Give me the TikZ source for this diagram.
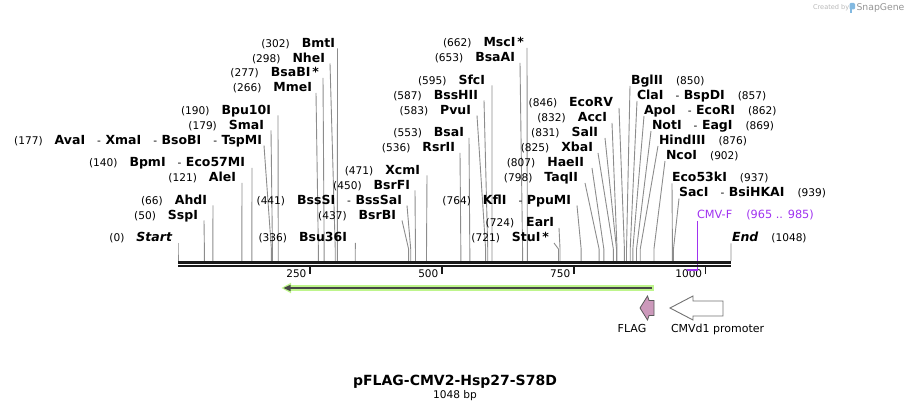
\documentclass[tikz,border=0pt]{standalone}
\usepackage{fontspec}
\setmainfont{DejaVu Sans}
\usetikzlibrary{arrows.meta}
\definecolor{leadc}{RGB}{140,140,140}
\definecolor{primc}{RGB}{160,50,240}
\definecolor{cdsg}{RGB}{190,245,140}
\definecolor{cdsd}{RGB}{70,70,70}
\definecolor{flagc}{RGB}{204,153,187}
\definecolor{logob}{RGB}{130,185,225}
\newcommand\nm[1]{{\fontsize{12.5}{14}\selectfont\bfseries #1}}
\newcommand\nb[1]{{\fontsize{10.6}{12}\selectfont (#1)}}
\newcommand\sepx{\hspace{12pt}{\mdseries\fontsize{10.6}{12}\selectfont -}\hspace{4.5pt}}
\newcommand\lcut[7]{%
  \node[lab, anchor=base east] (#1) at (#2,#3+4.5) {\nb{#4}\hspace{12pt}\nm{#5}};
  \coordinate (#1a) at (#7,#3+5.5);
  \coordinate (#1b) at ({178+#6*0.52767},249);
  \coordinate (#1c) at ({178+#6*0.52767},261);
  \draw[lead] (#1a) -- (#1b) -- (#1c);
}
\newcommand\rcut[7]{%
  \node[lab, anchor=base west] (#1) at (#2,#3+4.5) {\nm{#5}\hspace{13pt}\nb{#4}};
  \coordinate (#1a) at (#7,#3+6);
  \coordinate (#1b) at ({178+#6*0.52767},249);
  \coordinate (#1c) at ({178+#6*0.52767},261);
  \draw[lead] (#1a) -- (#1b) -- (#1c);
}
\begin{document}
\begin{tikzpicture}[x=1pt,y=-1pt,
  lab/.style={inner sep=0pt, outer sep=0pt},
  lead/.style={draw=leadc, line width=0.9pt},
  tickmark/.style={draw=black!90, line width=1.5pt}]
\useasboundingbox (0,0) rectangle (910,411);

% leaders and labels (left)
\lcut{bmt}{335}{43}{302}{BmtI}{302}{337.5}
\lcut{nhe}{325}{58}{298}{NheI}{298}{330}
\lcut{bsab}{319}{72.5}{277}{BsaBI\hspace{2pt}*}{277}{323}
\lcut{mme}{312}{87.5}{266}{MmeI}{266}{316}
\lcut{bpu}{271}{110}{190}{Bpu10I}{190}{278}
\lcut{sma}{264}{125}{179}{SmaI}{179}{271}
\lcut{ava}{262}{140}{177}{AvaI\sepx XmaI\sepx BsoBI\sepx TspMI}{177}{264}
\lcut{bpm}{245}{162.5}{140}{BpmI\sepx Eco57MI}{140}{252}
\lcut{ale}{236}{177.5}{121}{AleI}{121}{242}
\lcut{ahd}{207}{200}{66}{AhdI}{66}{213}
\lcut{ssp}{198}{215}{50}{SspI}{50}{204}
\lcut{start}{172}{237.5}{0}{\itshape Start}{0}{178}
\lcut{bsu}{347}{237.5}{336}{Bsu36I}{336}{355.3}
\lcut{bsss}{402}{200}{441}{BssSI\sepx BssSaI}{441}{407}
\lcut{bsrb}{396}{215}{437}{BsrBI}{437}{402}
\lcut{bsrf}{410}{185}{450}{BsrFI}{450}{415}
\lcut{xcm}{420}{170}{471}{XcmI}{471}{427}
\lcut{rsr}{455}{147.5}{536}{RsrII}{536}{460}
\lcut{bsa}{464}{132.5}{553}{BsaI}{553}{469}
\lcut{pvu}{471}{110}{583}{PvuI}{583}{477}
\lcut{bsshii}{478}{95}{587}{BssHII}{587}{484}
\lcut{sfc}{485}{80}{595}{SfcI}{595}{492}
\lcut{bsaa}{515}{57.5}{653}{BsaAI}{653}{520}
\lcut{msc}{524}{42.5}{662}{MscI\hspace{2pt}*}{662}{527}
\lcut{stu}{549}{237.5}{721}{StuI\hspace{2pt}*}{721}{554}
\lcut{ear}{554}{222.5}{724}{EarI}{724}{559}
\lcut{kfl}{571}{200}{764}{KflI\sepx PpuMI}{764}{577}
\lcut{taq}{578}{177.5}{798}{TaqII}{798}{585}
\lcut{hae}{584}{162.5}{807}{HaeII}{807}{592}
\lcut{xba}{593}{147.5}{825}{XbaI}{825}{598}
\lcut{sal}{598}{132.5}{831}{SalI}{831}{605}
\lcut{acc}{607}{117.5}{832}{AccI}{832}{612}
\lcut{ecorv}{613}{102.5}{846}{EcoRV}{846}{619}

% right labels
\rcut{bgl}{631}{80}{850}{BglII}{850}{630}
\rcut{cla}{637}{95}{857}{ClaI\sepx BspDI}{857}{637}
\rcut{apo}{644}{110}{862}{ApoI\sepx EcoRI}{862}{644}
\rcut{notl}{652}{125}{869}{NotI\sepx EagI}{869}{651}
\rcut{hind}{659}{140}{876}{HindIII}{876}{658}
\rcut{nco}{666}{155}{902}{NcoI}{902}{665}
\rcut{eco53}{672}{177.5}{937}{Eco53kI}{937}{672}
\rcut{sac}{679}{192.5}{939}{SacI\sepx BsiHKAI}{939}{679}
\rcut{endl}{732}{237.5}{1048}{\itshape End}{1048}{731}

% primer CMV-F
\node[lab, anchor=base west, text=primc] (cmvf) at (697,218.5)
  {\fontsize{11.3}{13}\selectfont CMV-F\hspace{14pt}(965 .. 985)};
\coordinate (pa) at (697.3,221);
\coordinate (pb) at (697.3,270.5);
\coordinate (pc) at (687,270.5);
\draw[primc, line width=1.1pt] (pa) -- (pb);

% backbone
\coordinate (b0) at (178,262.5);
\coordinate (b1) at (731,262.5);
\draw[black!90, line width=3.2pt] (b0) -- (b1);
\draw[black!90, line width=1.6pt] (178,266.2) -- (731,266.2);

% ticks
\foreach \v/\n in {250/ta,500/tb,750/tc,1000/td}{
  \coordinate (\n) at ({178+\v*0.52767},267);
  \draw[tickmark] (\n) -- ++(0,7);
  \node[lab, anchor=base east] (\n l) at ({178+\v*0.52767-3.5},278) {\fontsize{10.5}{12}\selectfont \v};
}
\draw[primc, line width=2pt] (pc) -- (698,270.5);

% Hsp27 CDS arrow
\fill[cdsg] (654,285) rectangle (290,291);
\fill[cdsg] (291,282.7) -- (281.5,288) -- (291,293.3) -- cycle;
\draw[cdsd, line width=2.2pt] (652,288) -- (288,288);
\fill[cdsd] (290.5,284.8) -- (283.5,288) -- (290.5,291.2) -- cycle;

% FLAG
\filldraw[fill=flagc, draw=black!65, line width=0.8pt]
  (654,300.5) -- (649,300.5) -- (647.5,296) -- (640,308) -- (647.5,320) -- (649,315.5) -- (654,315.5) -- cycle;
\node[lab, anchor=base] (flag) at (632,333) {\fontsize{11}{13}\selectfont FLAG};

% CMVd1 promoter
\filldraw[fill=white, draw=black!55, line width=0.9pt]
  (723,301) -- (693,301) -- (693,296) -- (670,308) -- (693,320) -- (693,316) -- (723,316) -- cycle;
\node[lab, anchor=base west] (cmvp) at (671,333) {\fontsize{11}{13}\selectfont CMVd1 promoter};

% title
\node[lab, anchor=base] (title) at (455,385.8) {\fontsize{14}{16}\selectfont\bfseries pFLAG-CMV2-Hsp27-S78D};
\node[lab, anchor=base] (bp) at (455,398.9) {\fontsize{10.6}{12}\selectfont 1048 bp};

% created by
\node[lab, anchor=base west, text=black!28] (cb) at (813,9.2) {\fontsize{6.6}{8}\selectfont Created by};
\fill[logob, rounded corners=1.2pt] (849.5,3) rectangle (855,9.5);
\fill[logob] (849.5,5) rectangle (851.8,13);
\node[lab, anchor=base west, text=black!42] (sg) at (856.5,10.8) {\fontsize{9.3}{10}\selectfont SnapGene};
\end{tikzpicture}
\end{document}
